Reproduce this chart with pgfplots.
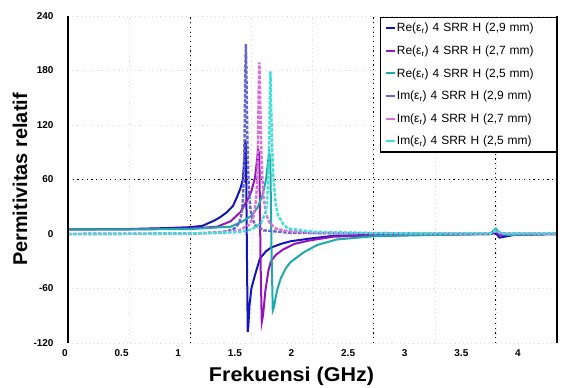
\documentclass[border=0pt]{standalone}
\usepackage{fontspec}
\setmainfont{Liberation Sans}
\usepackage{pgfplots}
\usepackage{pgfplotstable}
\pgfplotsset{compat=1.18}
\definecolor{reA}{RGB}{20,20,190}
\definecolor{reB}{RGB}{150,20,190}
\definecolor{reC}{RGB}{30,170,170}
\definecolor{imA}{RGB}{100,100,210}
\definecolor{imB}{RGB}{220,110,220}
\definecolor{imC}{RGB}{60,225,215}
\pgfplotstableread{
f v
0 5
0.5 5.5
0.8 6.5
1.0 7.5
1.1 9
1.2 15
1.25 19
1.3 24
1.35 31
1.38 40
1.41 50
1.43 60
1.44 78
1.45 104
1.455 98
1.465 -40
1.47 -108
1.475 -102
1.485 -78
1.5 -60
1.53 -45
1.57 -27
1.62 -19
1.66 -15
1.74 -11
1.82 -8
1.98 -5
2.17 -2
2.5 -1
3.0 -0.5
3.45 0
3.5 1
3.53 -4
3.57 -3
3.65 -1
4.0 0
}\reA
\pgfplotstableread{
f v
0 5
0.5 5.2
1.0 6
1.22 8
1.33 14
1.41 24
1.47 38
1.5 47
1.53 62
1.545 80
1.555 93
1.565 88
1.575 -30
1.585 -97
1.595 -90
1.615 -62
1.64 -40
1.66 -30
1.7 -23
1.76 -17
1.85 -11
1.98 -7
2.17 -3
2.5 -1.5
3.0 -0.8
3.45 0
3.5 3
3.53 -1
3.6 -1
4.0 0
}\reB
\pgfplotstableread{
f v
0 5
0.5 5
1.0 5.5
1.33 8
1.43 14
1.5 20
1.55 29
1.59 42
1.62 60
1.635 78
1.645 90
1.655 82
1.665 -20
1.675 -84
1.685 -80
1.71 -62
1.74 -49
1.78 -38
1.82 -31
1.93 -20
2.04 -12
2.2 -6
2.5 -2.5
3.0 -1
3.45 0
3.5 6
3.53 1
3.6 -1
4.0 0
}\reC
\pgfplotstableread{
f v
0 0
1.0 0.5
1.2 1.5
1.3 3
1.36 6
1.4 12
1.42 22
1.43 35
1.44 70
1.445 115
1.45 175
1.455 209
1.46 175
1.465 125
1.47 85
1.48 48
1.49 30
1.5 20
1.53 10
1.6 4
1.8 1.5
2.0 1
3.0 0.5
3.45 0.5
3.5 3
3.55 0.5
4.0 0.5
}\imA
\pgfplotstableread{
f v
0 0
1.0 0.5
1.3 2
1.4 4
1.48 10
1.52 20
1.54 40
1.55 70
1.555 110
1.56 160
1.566 189
1.572 150
1.58 100
1.59 62
1.6 40
1.62 22
1.65 12
1.7 6
1.8 3
2.0 1.5
3.0 0.5
3.45 0.5
3.5 3
3.55 0.5
4.0 0.5
}\imB
\pgfplotstableread{
f v
0 0
1.0 0.5
1.4 2
1.5 5
1.58 12
1.62 25
1.635 50
1.645 90
1.65 140
1.656 179
1.662 140
1.67 95
1.68 62
1.7 32
1.72 20
1.76 11
1.8 6
2.0 2.5
2.5 1
3.0 0.5
3.45 0.5
3.5 4
3.55 0.5
4.0 0.5
}\imC
\begin{document}
\begin{tikzpicture}
\useasboundingbox (-68bp,-45bp) rectangle (493bp,343bp);
\begin{axis}[
  at={(0,0)}, anchor=south west,
  scale only axis, width=489bp, height=327bp,
  xmin=0, xmax=4, ymin=-120, ymax=240,
  clip=false,
  xtick={0,0.5,1,1.5,2,2.5,3,3.5,4}, xticklabels={},
  ytick={-120,-60,0,60,120,180,240},
  major tick length=0pt,
  axis line style={draw=none},
  grid=major,
  major grid style={gray!25, dash pattern=on 1.2bp off 3bp},
  /pgf/number format/assume math mode=true,
  yticklabel style={font=\bfseries\fontsize{10}{12}\selectfont, xshift=-11bp},
  ylabel={Permitivitas relatif},
  ylabel style={font=\bfseries\fontsize{20}{22}\selectfont, at={(axis description cs:-0.098,0.5)}, anchor=center, rotate=0},
  legend cell align=left,
  legend style={at={(1,0.997)}, anchor=north east, draw=black, line width=1.1pt,
    font=\fontsize{12}{14}\selectfont, row sep=10.5bp, inner sep=4.5bp,
    nodes={inner sep=1bp, text width=154bp}},
  legend image code/.code={\draw[#1, line width=2bp, solid] (-2bp,0bp) -- (7bp,0bp);},
]
\draw[black, line width=1bp, dash pattern=on 1.2bp off 3.5bp] (axis cs:1,-120) -- (axis cs:1,240);
\draw[black, line width=1bp, dash pattern=on 1.2bp off 3.5bp] (axis cs:2.5,-120) -- (axis cs:2.5,240);
\draw[black, line width=1bp, dash pattern=on 1.2bp off 3.5bp] (axis cs:3.5,-120) -- (axis cs:3.5,240);
\draw[black, line width=1bp, dash pattern=on 1.2bp off 3.5bp] (axis cs:0,60) -- (axis cs:4,60);
\addplot[reA, line width=2bp] table[x=f,y=v] {\reA};
\addplot[reB, line width=2bp] table[x=f,y=v] {\reB};
\addplot[reC, line width=2bp] table[x=f,y=v] {\reC};
\addplot[imA, line width=2.4bp, dash pattern=on 3.5bp off 1.5bp] table[x=f,y=v] {\imA};
\addplot[imB, line width=2.4bp, dash pattern=on 3.5bp off 1.5bp] table[x=f,y=v] {\imB};
\addplot[imC, line width=2.4bp, dash pattern=on 3.5bp off 1.5bp] table[x=f,y=v] {\imC};
\legend{{Re(ε\textsubscript{r}) 4 SRR H (2,9 mm)},
        {Re(ε\textsubscript{r}) 4 SRR H (2,7 mm)},
        {Re(ε\textsubscript{r}) 4 SRR H (2,5 mm)},
        {Im(ε\textsubscript{r}) 4 SRR H (2,9 mm)},
        {Im(ε\textsubscript{r}) 4 SRR H (2,7 mm)},
        {Im(ε\textsubscript{r}) 4 SRR H (2,5 mm)}}
\draw[black, line width=1.4bp] (axis cs:0,-120) -- (axis cs:0,240);
\draw[black, line width=1.4bp] (axis cs:4,-120) -- (axis cs:4,240);
\end{axis}
\begin{axis}[
  at={(-3bp,0)}, anchor=south west,
  scale only axis, width=453bp, height=327bp,
  xmin=0, xmax=4, ymin=0, ymax=1,
  xtick={0,0.5,1,1.5,2,2.5,3,3.5,4}, ytick=\empty,
  major tick length=0pt,
  axis line style={draw=none},
  /pgf/number format/assume math mode=true,
  xticklabel style={font=\bfseries\fontsize{10}{12}\selectfont, yshift=-3bp},
  xlabel={Frekuensi (GHz)},
  xlabel style={font=\bfseries\fontsize{20}{22}\selectfont, xscale=1.08, at={(axis description cs:0.5,-0.101)}, anchor=center},
]
\addplot[draw=none] coordinates {(0,0.5) (4,0.5)};
\end{axis}
\end{tikzpicture}
\end{document}
